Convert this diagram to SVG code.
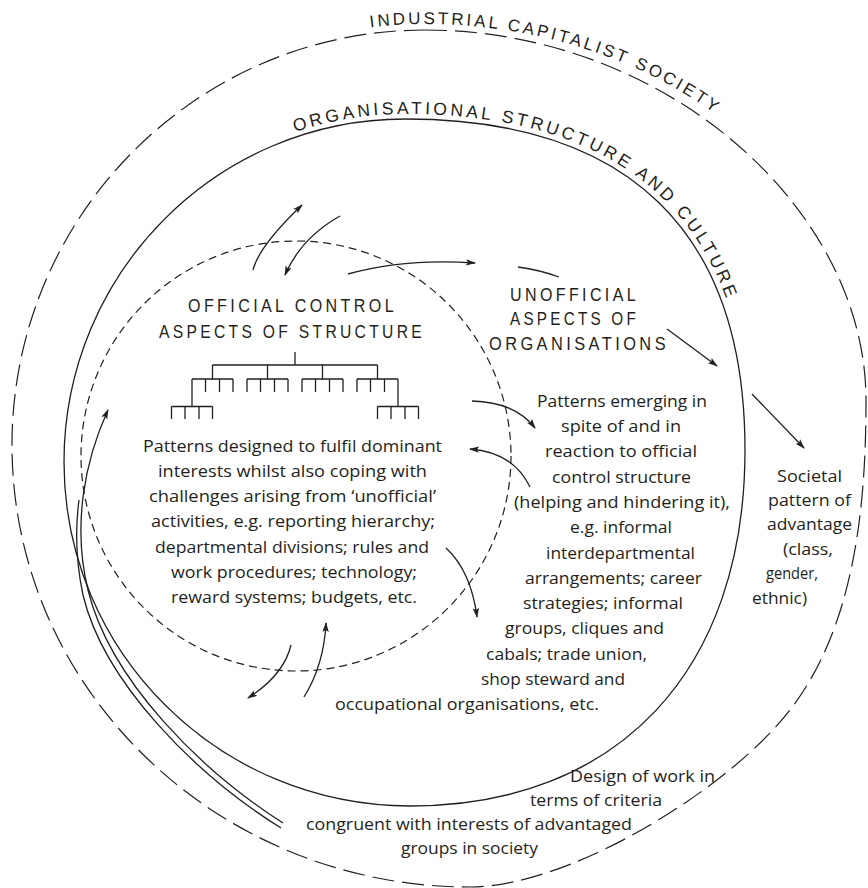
<svg xmlns="http://www.w3.org/2000/svg" width="868" height="888" viewBox="0 0 868 888">
<defs>
<style>
.ln{fill:none;stroke:#231f20;stroke-width:1.3}
.dl{fill:none;stroke:#231f20;stroke-width:1.2;stroke-dasharray:22 8}
.ds{fill:none;stroke:#231f20;stroke-width:1.2;stroke-dasharray:8 5}
.arr{fill:none;stroke:#231f20;stroke-width:1.3;marker-end:url(#ah)}
.cap{font-family:"Liberation Sans",Arial,sans-serif;fill:#231f20}
.hd{font-family:"Liberation Sans",Arial,sans-serif;font-size:19px;fill:#231f20;letter-spacing:4px}
.bd{font-family:"Open Sans","Liberation Sans",sans-serif;font-size:17px;fill:#231f20}
</style>
<marker id="ah" viewBox="0 0 10 8" refX="9" refY="4" markerWidth="10" markerHeight="8" markerUnits="userSpaceOnUse" orient="auto">
<path d="M0,0.8 L10,4 L0,7.2 L2,4 Z" fill="#231f20"/>
</marker>
<path id="outerTxt" d="M6,445 C6,212 194,24 425,24 C672,24 872,192 872,400"/>
<path id="orgTxt" d="M59,462 C59,270 214,114 405,114 C633,114 750,228 750,450 C750,674 620,811 410,811"/>
</defs>

<g id="society">
<path class="dl" d="M425,30 C667,30 866,210 866,400 C866,506 855,626 790,710 C729,789 570,887 470,887 C217,887 12,689 12,445 C12,216 197,30 425,30 Z"/>
<text class="cap" font-size="17" letter-spacing="2.9"><textPath href="#outerTxt" startOffset="605">INDUSTRIAL CAPITALIST SOCIETY</textPath></text>
</g>

<g id="organisation">
<path class="ln" d="M405,119 C629,119 745,232 745,450 C745,671 618,806 410,806 C219,806 64,652 64,462 C64,273 217,119 405,119 Z"/>
<text class="cap" font-size="17.5" letter-spacing="3.3"><textPath href="#orgTxt" startOffset="433">ORGANISATIONAL STRUCTURE AND CULTURE</textPath></text>
</g>

<g id="official">
<circle class="ds" cx="296" cy="456" r="215"/>
<text class="hd" x="188" y="312" textLength="209" lengthAdjust="spacingAndGlyphs">OFFICIAL CONTROL</text>
<text class="hd" x="159" y="338" textLength="266" lengthAdjust="spacingAndGlyphs">ASPECTS OF STRUCTURE</text>
<path class="ln" stroke-width="1.2" d="M295,352 V365 M212.5,365 H377.5 M212.5,365 V379 M267.5,365 V379 M322.5,365 V379 M377.5,365 V379
M192,379 H233 M192,379 V406.5 M205.5,379 V392 M219.5,379 V392 M233,379 V392
M247,379 H288 M247,379 V392 M260.5,379 V392 M274.5,379 V392 M288,379 V392
M302,379 H343 M302,379 V392 M315.5,379 V392 M329.5,379 V392 M343,379 V392
M357,379 H398 M357,379 V392 M370.5,379 V392 M384.5,379 V392 M398,379 V406.5
M171.5,406.5 H212.5 M171.5,406.5 V419 M185,406.5 V419 M199,406.5 V419 M212.5,406.5 V419
M377.5,406.5 H418.5 M377.5,406.5 V419 M391,406.5 V419 M405,406.5 V419 M418.5,406.5 V419"/>
<text class="bd" x="143" y="451.5" textLength="299" lengthAdjust="spacingAndGlyphs">Patterns designed to fulfil dominant</text>
<text class="bd" x="158" y="476.8" textLength="269" lengthAdjust="spacingAndGlyphs">interests whilst also coping with</text>
<text class="bd" x="149" y="502.1" textLength="287" lengthAdjust="spacingAndGlyphs">challenges arising from ‘unofficial’</text>
<text class="bd" x="151" y="527.4" textLength="284" lengthAdjust="spacingAndGlyphs">activities, e.g. reporting hierarchy;</text>
<text class="bd" x="155" y="552.7" textLength="274" lengthAdjust="spacingAndGlyphs">departmental divisions; rules and</text>
<text class="bd" x="171" y="578" textLength="246" lengthAdjust="spacingAndGlyphs">work procedures; technology;</text>
<text class="bd" x="171" y="603.3" textLength="246" lengthAdjust="spacingAndGlyphs">reward systems; budgets, etc.</text>
</g>

<g id="unofficial">
<text class="hd" x="510" y="301" textLength="129" lengthAdjust="spacingAndGlyphs">UNOFFICIAL</text>
<text class="hd" x="510" y="325" textLength="129" lengthAdjust="spacingAndGlyphs">ASPECTS OF</text>
<text class="hd" x="489" y="350" textLength="180" lengthAdjust="spacingAndGlyphs">ORGANISATIONS</text>
<text class="bd" x="537" y="406.7" textLength="170" lengthAdjust="spacingAndGlyphs">Patterns emerging in</text>
<text class="bd" x="561" y="432" textLength="120" lengthAdjust="spacingAndGlyphs">spite of and in</text>
<text class="bd" x="545" y="457.3" textLength="152" lengthAdjust="spacingAndGlyphs">reaction to official</text>
<text class="bd" x="552" y="482.6" textLength="139" lengthAdjust="spacingAndGlyphs">control structure</text>
<text class="bd" x="514" y="507.9" textLength="216" lengthAdjust="spacingAndGlyphs">(helping and hindering it),</text>
<text class="bd" x="570" y="533.2" textLength="102" lengthAdjust="spacingAndGlyphs">e.g. informal</text>
<text class="bd" x="546" y="558.5" textLength="149" lengthAdjust="spacingAndGlyphs">interdepartmental</text>
<text class="bd" x="525" y="583.8" textLength="177" lengthAdjust="spacingAndGlyphs">arrangements; career</text>
<text class="bd" x="523" y="609.1" textLength="160" lengthAdjust="spacingAndGlyphs">strategies; informal</text>
<text class="bd" x="505" y="634.4" textLength="159" lengthAdjust="spacingAndGlyphs">groups, cliques and</text>
<text class="bd" x="486" y="659.7" textLength="161" lengthAdjust="spacingAndGlyphs">cabals; trade union,</text>
<text class="bd" x="481" y="685" textLength="144" lengthAdjust="spacingAndGlyphs">shop steward and</text>
<text class="bd" x="335" y="710.3" textLength="264" lengthAdjust="spacingAndGlyphs">occupational organisations, etc.</text>
</g>

<g id="societal">
<text class="bd" x="777" y="481.5" textLength="65" lengthAdjust="spacingAndGlyphs">Societal</text>
<text class="bd" x="768" y="505.9" textLength="83" lengthAdjust="spacingAndGlyphs">pattern of</text>
<text class="bd" x="767" y="530.3" textLength="85" lengthAdjust="spacingAndGlyphs">advantage</text>
<text class="bd" x="783" y="554.7" textLength="50" lengthAdjust="spacingAndGlyphs">(class,</text>
<text class="bd" x="766" y="579.1" textLength="52" lengthAdjust="spacingAndGlyphs">gender,</text>
<text class="bd" x="752" y="603.5" textLength="55" lengthAdjust="spacingAndGlyphs">ethnic)</text>
</g>

<g id="design-of-work">
<text class="bd" x="570" y="781.7" textLength="145" lengthAdjust="spacingAndGlyphs">Design of work in</text>
<text class="bd" x="530" y="805.5" textLength="132" lengthAdjust="spacingAndGlyphs">terms of criteria</text>
<text class="bd" x="306" y="830" textLength="326" lengthAdjust="spacingAndGlyphs">congruent with interests of advantaged</text>
<text class="bd" x="401" y="854" textLength="137" lengthAdjust="spacingAndGlyphs">groups in society</text>
</g>

<g id="connectors">
<path class="arr" d="M253,270 Q259,246 302,205"/>
<path class="arr" d="M340,216 Q301,238 285,275"/>
<path class="arr" d="M348,274 Q405,258 475,263"/>
<path class="ln" d="M518,267 Q540,270 559,277"/>
<path class="arr" d="M667,329 L717,366"/>
<path class="arr" d="M752,394 L804,448"/>
<path class="arr" d="M472,401 Q515,402 535,428"/>
<path class="arr" d="M530,487 Q513,452 470,449"/>
<path class="arr" d="M446,548 Q471,571 477,617"/>
<path class="arr" d="M291,645 Q284,675 248,698"/>
<path class="arr" d="M304,697 Q324,665 326,623"/>
<path class="arr" d="M283,823 C200,770 110,680 88,590 C72,525 85,460 108,410"/>
<path class="ln" d="M281,828 C196,775 104,683 83,595 C76,562 75,530 79,500"/>
</g>
</svg>
